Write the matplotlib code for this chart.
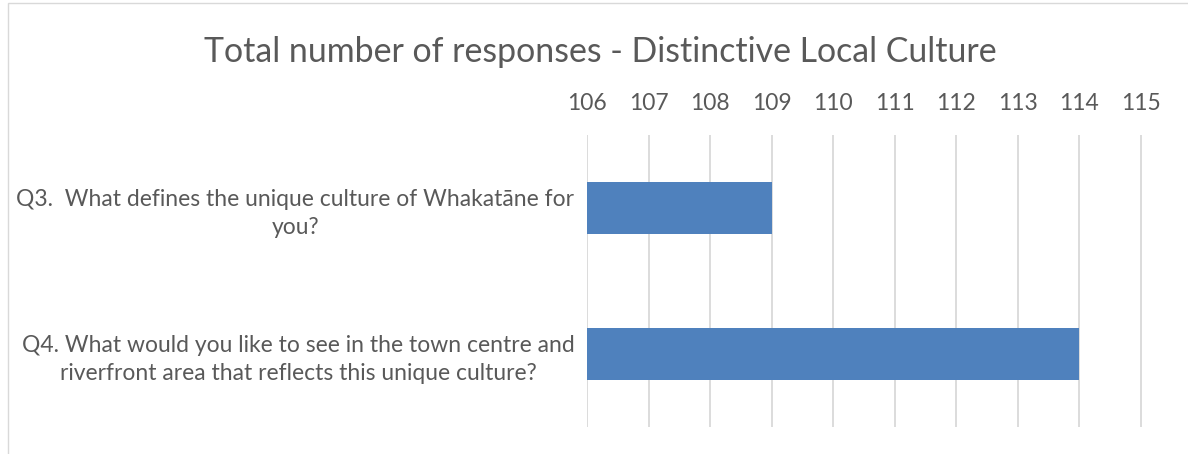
import matplotlib
matplotlib.use('Agg')
import matplotlib.pyplot as plt
from matplotlib.patches import Rectangle

questions = ['Q3.  What defines the unique culture of Whakatāne for\nyou?',
             'Q4. What would you like to see in the town centre and\nriverfront area that reflects this unique culture?']
responses = [109, 114]
ticks = list(range(106, 116))

plt.rcParams['font.family'] = ['Lato', 'DejaVu Sans']
txt = '#595959'

fig = plt.figure(figsize=(11.88, 4.54), dpi=100)
ax = fig.add_axes([0.4941, 0.0595, 0.4672, 0.6431])

ypos = [0, 1]
ax.barh(ypos, [r - 106 for r in responses], left=106, height=0.36, color='#4F81BD', zorder=3)
ax.set_xlim(106, 115.02)
ax.set_ylim(1.5, -0.5)
ax.set_xticks(ticks)
ax.xaxis.tick_top()
ax.tick_params(axis='x', length=0, labelsize=16.5, colors=txt, pad=15)
ax.set_yticks(ypos)
ax.set_yticklabels(questions, fontsize=16.5, color=txt, ha='right',
                   multialignment='center', linespacing=1.4)
ax.tick_params(axis='y', length=0, pad=9)
ax.grid(axis='x', color='#D9D9D9', linewidth=1.3, zorder=0)
for s in ax.spines.values():
    s.set_visible(False)

fig.text(0.505, 0.885, 'Total number of responses - Distinctive Local Culture',
         ha='center', va='center', fontsize=24.4, color=txt)

fig.patches.append(Rectangle((0.007, -0.1), 1.1, 1.093, transform=fig.transFigure,
                             fill=False, edgecolor='#D9D9D9', linewidth=1))

fig.savefig('out.png', dpi=100)
